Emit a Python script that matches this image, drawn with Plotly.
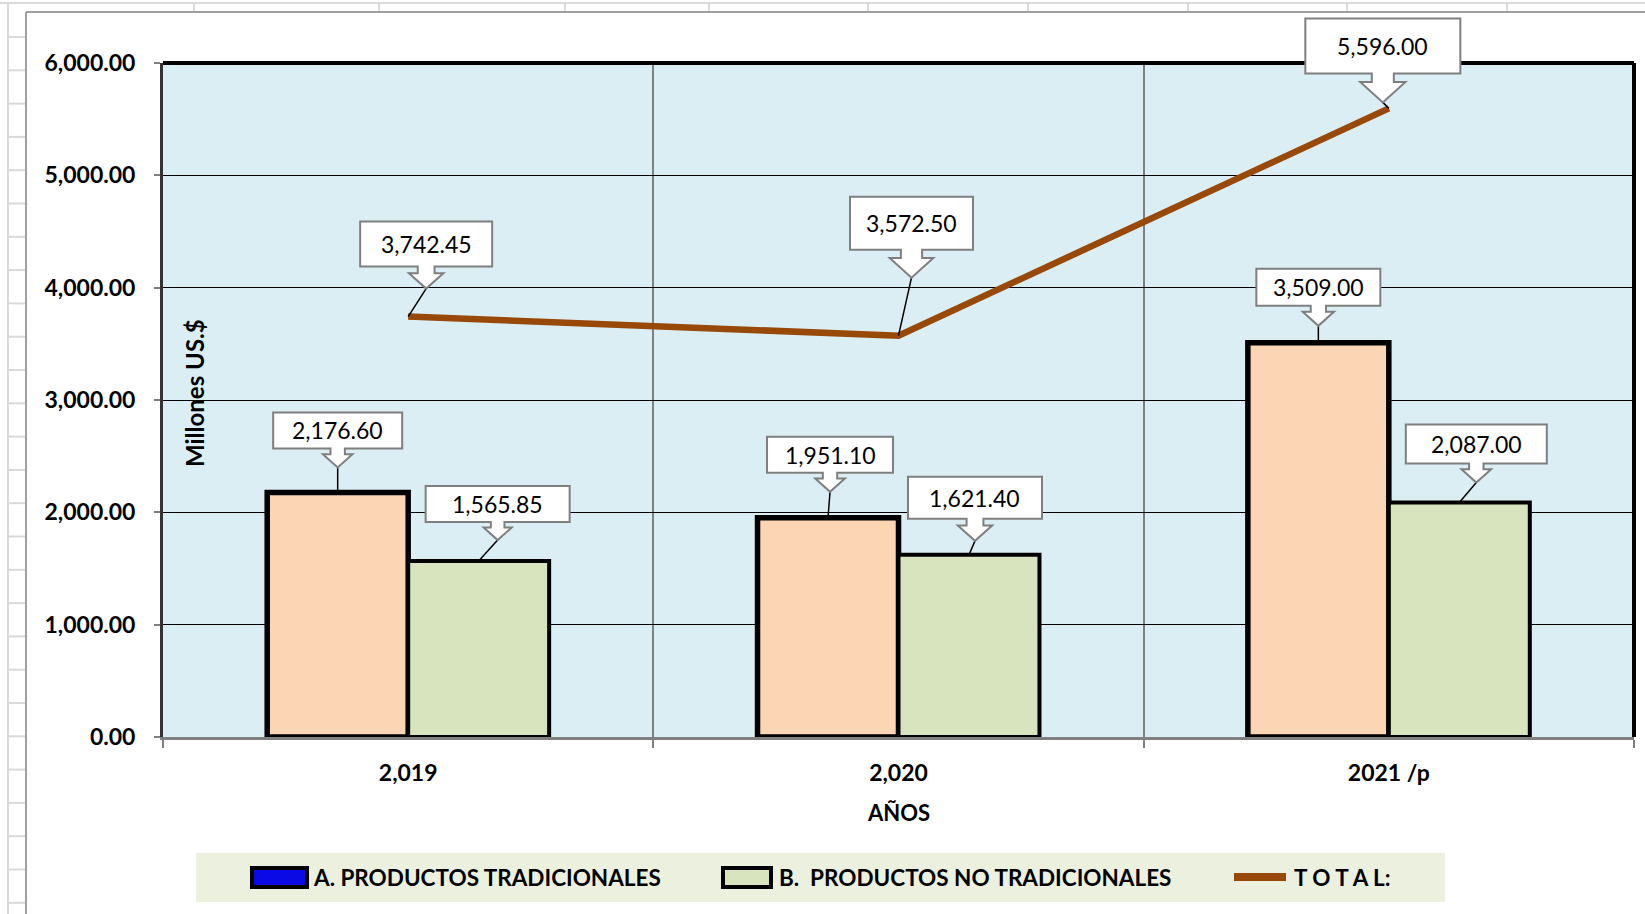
import plotly.graph_objects as go

# ---------------- data ----------------
categories = ["2,019", "2,020", "2021 /p"]
tradicionales = [2176.60, 1951.10, 3509.00]
no_tradicionales = [1565.85, 1621.40, 2087.00]
total = [3742.45, 3572.50, 5596.00]
y_ticks = [0, 1000, 2000, 3000, 4000, 5000, 6000]
series_names = ["A. PRODUCTOS TRADICIONALES", "B.\u00a0 PRODUCTOS NO TRADICIONALES", "T O T A L:"]
y_title = "Millones US.$"
x_title = "AÑOS"

# ---------------- layout constants (pixels) ----------------
W, H = 1645, 914
PL, PR, PT, PB = 163, 1634, 63, 737
BARGAP = 0.425
YMAX = 6000
FONT = "Lato"

xs = list(range(len(categories)))
XMIN, XMAX = -0.5, len(categories) - 0.5
off = (1 - BARGAP) / 4.0


def px(x):
    return (x - PL) / (PR - PL)


def py(y):
    return (PB - y) / (PB - PT)


def dx2paper(x):
    return (x - XMIN) / (XMAX - XMIN)


def dy2paper(v):
    return v / YMAX


fig = go.Figure()

fig.add_trace(go.Bar(
    x=xs, y=tradicionales, name=series_names[0], showlegend=False,
    marker=dict(color="#FCD5B5", line=dict(color="black", width=5.5)),
))
fig.add_trace(go.Bar(
    x=xs, y=no_tradicionales, name=series_names[1], showlegend=False,
    marker=dict(color="#D7E4BD", line=dict(color="black", width=4)),
))
fig.add_trace(go.Scatter(
    x=xs, y=total, name=series_names[2], mode="lines", showlegend=False,
    line=dict(color="#984807", width=6.5),
))

shapes = []
annotations = []

# ---- Excel sheet background lines ----
GRID = "#D9D9D9"
shapes.append(dict(type="line", xref="paper", yref="paper", x0=px(0), x1=px(W), y0=py(3), y1=py(3),
                   line=dict(color=GRID, width=2), layer="below"))
for cx in [194, 379, 565, 709, 868, 1028, 1188, 1347, 1507]:
    shapes.append(dict(type="line", xref="paper", yref="paper", x0=px(cx), x1=px(cx), y0=py(3), y1=py(12),
                       line=dict(color=GRID, width=2), layer="below"))
shapes.append(dict(type="line", xref="paper", yref="paper", x0=px(8), x1=px(8), y0=py(3), y1=py(H),
                   line=dict(color=GRID, width=2), layer="below"))
ry = 37.0
while ry < H:
    shapes.append(dict(type="line", xref="paper", yref="paper", x0=px(8), x1=px(26), y0=py(ry), y1=py(ry),
                       line=dict(color=GRID, width=2), layer="below"))
    ry += 33.3
# chart area border
shapes.append(dict(type="line", xref="paper", yref="paper", x0=px(26), x1=px(26), y0=py(12), y1=py(H),
                   line=dict(color="#A0A0A0", width=2), layer="below"))
shapes.append(dict(type="line", xref="paper", yref="paper", x0=px(26), x1=px(W), y0=py(12), y1=py(12),
                   line=dict(color="#A0A0A0", width=2), layer="below"))

# ---- plot frame: top and right thick black ----
shapes.append(dict(type="line", xref="paper", yref="paper", x0=0, x1=1.0, y0=1, y1=1,
                   line=dict(color="black", width=4), layer="above"))
shapes.append(dict(type="line", xref="paper", yref="paper", x0=1, x1=1, y0=0, y1=1,
                   line=dict(color="black", width=4), layer="above"))

# ---- callouts ----
# (tip dx, tip dy (screen, down positive), box width, box height, arrow length)
callout_total = [(18, -28, 132, 45, 22), (13, -58, 123, 53, 28), (-6, -6, 155, 55, 29)]
callout_trad = [(0, -25, 129, 36, 19), (2, -26, 126, 36, 19), (0, -17, 124, 37, 20)]
callout_notrad = [(19, -21, 144, 36, 18), (6, -14, 134, 42, 22), (17, -20, 141, 39, 19)]


def add_callout(xd, val, style):
    tx, ty, w, h, L = style
    bb = ty - L           # box bottom (screen coords, relative to point)
    bt = bb - h           # box top
    sl = 0.3 * L
    hh = 0.78 * L
    sh = 0.38 * L
    pts = [(tx - w / 2, bt), (tx + w / 2, bt), (tx + w / 2, bb), (tx + sh, bb), (tx + sh, bb + sl),
           (tx + hh, bb + sl), (tx, ty), (tx - hh, bb + sl), (tx - sh, bb + sl), (tx - sh, bb),
           (tx - w / 2, bb)]
    path = "M " + " L ".join(f"{x:.1f},{-y:.1f}" for x, y in pts) + " Z"
    ax, ay = dx2paper(xd), dy2paper(val)
    if abs(tx) + abs(ty) > 3:
        shapes.append(dict(type="path", xref="paper", yref="paper", xsizemode="pixel", ysizemode="pixel",
                           xanchor=ax, yanchor=ay, path=f"M {tx:.1f},{-ty:.1f} L 0,0",
                           line=dict(color="black", width=1.5), layer="above"))
    shapes.append(dict(type="path", xref="paper", yref="paper", xsizemode="pixel", ysizemode="pixel",
                       xanchor=ax, yanchor=ay, path=path, fillcolor="white",
                       line=dict(color="#7F7F7F", width=2), layer="above"))
    annotations.append(dict(xref="paper", yref="paper", x=ax, y=ay, xshift=tx, yshift=-(bb - h / 2),
                            text=f"{val:,.2f}", showarrow=False, xanchor="center", yanchor="middle",
                            font=dict(family=FONT, size=23, color="black")))


for i in xs:
    add_callout(i - off, tradicionales[i], callout_trad[i])
    add_callout(i + off, no_tradicionales[i], callout_notrad[i])
    add_callout(i, total[i], callout_total[i])

# ---- axis titles ----
annotations.append(dict(xref="paper", yref="paper", x=px(194), y=py(393), text=f"<b>{y_title}</b>",
                        textangle=-90, showarrow=False, xanchor="center", yanchor="middle",
                        font=dict(family=FONT, size=24, color="black")))
annotations.append(dict(xref="paper", yref="paper", x=0.5, y=py(813), text=f"<b>{x_title}</b>",
                        showarrow=False, xanchor="center", yanchor="middle",
                        font=dict(family=FONT, size=22, color="black")))

# ---- custom legend ----
LEG_Y = 877
shapes.append(dict(type="rect", xref="paper", yref="paper", x0=px(196), x1=px(1445), y0=py(902), y1=py(853),
                   fillcolor="#EBF1DE", line=dict(width=0), layer="below"))
shapes.append(dict(type="rect", xref="paper", yref="paper", x0=px(252), x1=px(307), y0=py(887), y1=py(868),
                   fillcolor="#0A0AE6", line=dict(color="black", width=4), layer="above"))
shapes.append(dict(type="rect", xref="paper", yref="paper", x0=px(723), x1=px(771), y0=py(887), y1=py(868),
                   fillcolor="#D7E4BD", line=dict(color="black", width=4), layer="above"))
shapes.append(dict(type="line", xref="paper", yref="paper", x0=px(1234), x1=px(1286), y0=py(LEG_Y), y1=py(LEG_Y),
                   line=dict(color="#984807", width=8), layer="above"))
for name, lx in zip(series_names, [311, 777, 1292]):
    annotations.append(dict(xref="paper", yref="paper", x=px(lx), y=py(LEG_Y), text=f"<b>{name}</b>",
                            showarrow=False, xanchor="left", yanchor="middle",
                            font=dict(family=FONT, size=22.5, color="black")))

fig.update_layout(
    width=W, height=H,
    margin=dict(l=PL, r=W - PR, t=PT, b=H - PB, pad=0),
    paper_bgcolor="white", plot_bgcolor="#DAEEF3",
    barmode="group", bargap=BARGAP, bargroupgap=0,
    showlegend=False,
    font=dict(family=FONT, color="black"),
    shapes=shapes, annotations=annotations,
    xaxis=dict(
        range=[XMIN, XMAX], tickvals=xs, ticktext=categories, ticks="",
        tickfont=dict(family=FONT, size=23, color="black", weight="bold"),
        ticklabelstandoff=13,
        showgrid=False, zeroline=False,
        showline=True, linecolor="#808080", linewidth=3,
        minor=dict(tickvals=[i - 0.5 for i in range(len(categories) + 1)], showgrid=True,
                   gridcolor="#808080", gridwidth=1.5, ticks="outside", ticklen=8,
                   tickcolor="#808080", tickwidth=2),
    ),
    yaxis=dict(
        range=[0, YMAX], tickvals=y_ticks, tickformat=",.2f",
        tickfont=dict(family=FONT, size=23, color="black", weight="bold"),
        ticks="outside", ticklen=6, tickcolor="#808080", tickwidth=2,
        ticklabelstandoff=14,
        showgrid=True, gridcolor="black", gridwidth=1, zeroline=False,
        showline=True, linecolor="#333333", linewidth=3,
    ),
)

fig.write_html("out.html", config={"displayModeBar": False},
               post_script="document.body.style.margin='0px';")
